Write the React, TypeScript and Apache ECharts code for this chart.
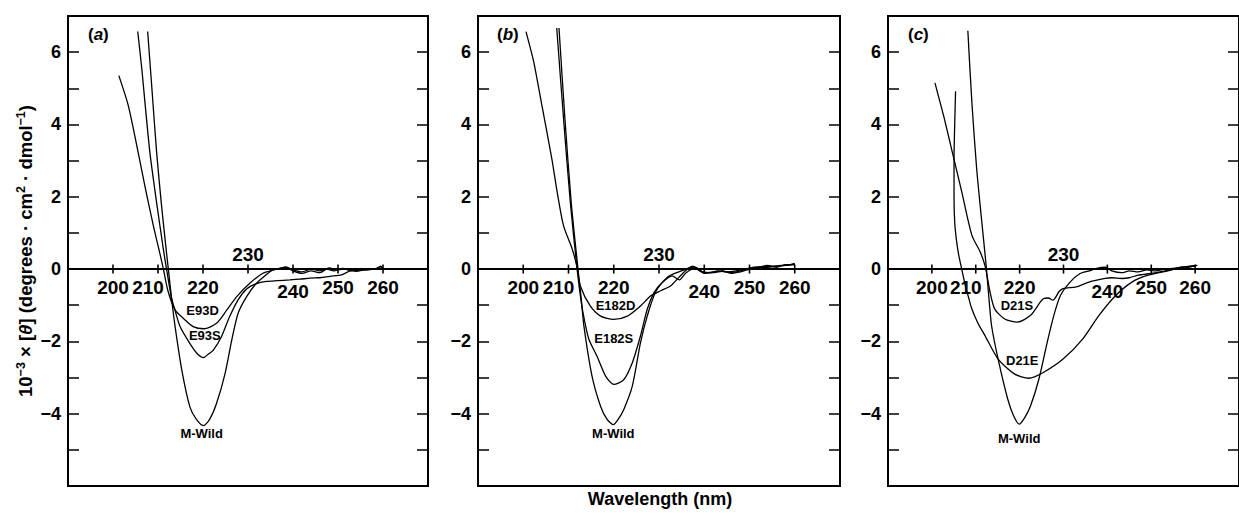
import React, { useEffect, useRef } from "react";
import * as echarts from "echarts";

const FONT = "'Liberation Sans', Arial, Helvetica, sans-serif";

// Wavelength tick labels drawn on the zero line
const xTicks = [200, 210, 220, 230, 240, 250, 260];
const panelLetters = ["a", "b", "c"];

// ---- Panel (a) ----
const aE93D: number[][] = [
  [201.3, 5.35], [203.4, 4.52], [205.6, 3.22], [207.1, 2.29], [209.0, 1.18], [210.4, 0.44], [211.2, 0], [212.2, -0.6],
  [213.8, -1.13], [215.6, -1.36], [217.8, -1.59], [220.2, -1.65], [223.0, -1.5], [225.3, -1.13], [227.5, -0.76],
  [230.4, -0.39], [233.4, -0.11], [235.6, -0.03], [237, 0.02], [238.5, 0.05], [240, -0.05], [242, -0.12], [244, -0.05],
  [246, -0.1], [247.5, 0], [249, -0.05], [251, 0.02], [253, -0.05], [255, -0.03], [257, 0], [258.5, 0], [259.5, 0.08], [260, 0],
];
const aE93S: number[][] = [
  [205.5, 6.57], [206.4, 5.54], [207.1, 4.61], [208.2, 3.22], [209.7, 1.83], [211.2, 0.54], [211.9, 0], [213, -0.8],
  [213.8, -1.15], [214.9, -1.59], [217.1, -2.06], [218.8, -2.35], [220.1, -2.45], [221.2, -2.35], [222.3, -2.24],
  [224.1, -1.87], [225.9, -1.32], [227.8, -0.85], [229.7, -0.55], [231.9, -0.4], [234.1, -0.34], [236.5, -0.32],
  [239.3, -0.3], [241.5, -0.28], [243.8, -0.25], [246, -0.24], [248.2, -0.2], [250.8, -0.16], [252.7, -0.05],
  [254.5, 0], [256.5, -0.02], [258.5, 0], [260, 0],
];
const aWild: number[][] = [
  [207.7, 6.57], [208.6, 5.07], [209.7, 3.22], [210.8, 1.74], [211.9, 0.44], [212.3, 0], [213, -0.8], [213.8, -1.59],
  [215.3, -2.8], [217.1, -3.82], [218.5, -4.15], [220.1, -4.33], [221.5, -4.15], [223.0, -3.72], [224.9, -2.89],
  [226.4, -1.96], [227.8, -1.22], [229.7, -0.76], [231.9, -0.39], [234.1, -0.15], [235.5, -0.02], [237, 0.02],
  [238.5, 0.05], [240, -0.02], [242, -0.08], [244, 0], [246, -0.05], [248, 0.03], [250, -0.02], [252, 0],
  [254, -0.06], [256, -0.02], [258, 0], [259.5, 0.06], [260, 0],
];

// ---- Panel (b) ----
const bE182D: number[][] = [
  [200.6, 6.57], [202.3, 5.74], [204.1, 4.54], [206.3, 3.06], [207.5, 2.13], [208.9, 1.2], [210.8, 0.56], [211.9, 0.05],
  [212.6, -0.46], [214.8, -1.02], [217.1, -1.3], [220.0, -1.39], [223.0, -1.3], [225.9, -1.02], [228.2, -0.74],
  [230.4, -0.6], [232.6, -0.46], [234.4, -0.23], [236.3, 0], [238, 0.05], [240, -0.1], [242, -0.08], [244, -0.05],
  [246, -0.12], [248, -0.08], [250, 0], [252, 0.05], [254, 0.05], [256, 0.08], [258, 0.1], [260, 0.15],
];
const bE182S: number[][] = [
  [207.4, 6.67], [208.9, 4.17], [210.4, 1.85], [211.9, 0], [212.8, -0.9], [213.5, -1.4], [214.5, -1.94], [216.3, -2.41],
  [218.2, -2.96], [220.0, -3.19], [222.2, -3.06], [224.1, -2.59], [225.9, -1.85], [227.4, -1.11], [228.9, -0.65],
  [230.5, -0.4], [232.9, -0.19], [234.5, -0.3], [236, -0.1], [238, 0.02], [240, -0.12], [242, -0.1], [244, -0.06],
  [246, -0.1], [248, -0.05], [250, 0.02], [252, 0.05], [254, 0.1], [256, 0.05], [258, 0.12], [260, 0.12],
];
const bWild: number[][] = [
  [207.9, 6.67], [209.2, 4.17], [210.6, 1.85], [212.1, 0], [212.8, -0.8], [213.4, -1.57], [215.2, -2.96], [217.1, -3.8],
  [218.5, -4.15], [219.9, -4.3], [221, -4.15], [222.2, -3.89], [224.1, -3.24], [225.9, -2.04], [227.4, -1.3],
  [229.2, -0.65], [231.8, -0.23], [234.1, -0.09], [236, 0], [237.5, 0.08], [239, -0.05], [241, -0.1], [243, -0.05],
  [245, -0.08], [247, -0.05], [249, 0], [251, 0.05], [253, 0.06], [255, 0.08], [257, 0.1], [259, 0.12], [260, 0.15],
];

// ---- Panel (c) ----
const cD21S: number[][] = [
  [200.7, 5.15], [202.8, 4.18], [204.6, 3.26], [206.8, 2.14], [209.1, 0.94], [211.0, 0.48], [212.1, 0.1], [212.6, -0.2],
  [213.2, -0.6], [214.3, -1.1], [216.6, -1.38], [219.5, -1.47], [222.5, -1.28], [224.5, -0.95], [225.4, -0.82],
  [226.5, -0.8], [227.6, -0.86], [229.0, -0.62], [229.9, -0.54], [232.9, -0.49], [235.8, -0.36], [239.5, -0.26],
  [241, -0.24], [243.3, -0.26], [245, -0.24], [247, -0.17], [250, -0.12], [252, -0.08], [255, 0], [257, 0.05],
  [258.5, 0.05], [260, 0.1],
];
const cD21E: number[][] = [
  [205.4, 4.92], [205.2, 4.0], [205.05, 3.0], [205.05, 2.0], [205.2, 1.3], [205.6, 0.8], [206.1, 0.4], [206.8, 0.0],
  [207.6, -0.45], [208.4, -0.8], [209.1, -1.1], [210.5, -1.5], [212.1, -1.84], [215.1, -2.49], [218.8, -2.9], [222.1, -3.02],
  [225.4, -2.86], [229.9, -2.49], [234.4, -1.93], [238.1, -1.28], [241.9, -0.73], [245.6, -0.36], [249.3, -0.17],
  [254.5, -0.03], [257, 0.05], [260.5, 0.1],
];
const cWild: number[][] = [
  [208.2, 6.59], [209.1, 4.64], [210.2, 2.79], [211.3, 1.4], [212.4, 0.06], [213.0, -0.8], [213.6, -1.56], [215.1, -2.49],
  [217.3, -3.6], [218.6, -4.05], [219.9, -4.29], [221.2, -4.1], [222.5, -3.78], [224.4, -3.04], [226.3, -2.02],
  [227.8, -1.28], [229.3, -0.73], [231.5, -0.36], [233.7, -0.13], [235.9, -0.05], [237.5, 0.02], [239.6, 0.05],
  [241, -0.05], [243.3, -0.1], [245, -0.05], [247, -0.08], [249, -0.02], [251, -0.05], [253, 0], [255, 0.02],
  [257, 0.05], [260, 0.08],
];

// Curve annotations: [text, wavelength, value]
const aLabels: [string, number, number][] = [["E93D", 219.9, -1.15], ["E93S", 220.4, -1.85], ["M-Wild", 219.7, -4.56]];
const bLabels: [string, number, number][] = [["E182D", 220.4, -1.02], ["E182S", 220.0, -1.92], ["M-Wild", 219.9, -4.54]];
const cLabels: [string, number, number][] = [["D21S", 219.4, -1.0], ["D21E", 220.6, -2.53], ["M-Wild", 219.9, -4.68]];

const panelCurves = [[aE93D, aE93S, aWild], [bE182D, bE182S, bWild], [cD21S, cD21E, cWild]];
const panelLabels = [aLabels, bLabels, cLabels];

export default function App() {
  const ref = useRef<HTMLDivElement>(null);
  useEffect(() => {
    if (!ref.current) return;
    const chart = echarts.init(ref.current, undefined, { renderer: "svg" });

    const gridsPos = [
      { left: 68, width: 360 },
      { left: 478, width: 362 },
      { left: 888, width: 358 },
    ];
    const grids = gridsPos.map((g) => ({
      left: g.left, width: g.width, top: 16, height: 470,
      show: true, borderColor: "#000", borderWidth: 2, backgroundColor: "transparent",
    }));

    const tickLabelOffset: Record<number, any> = {
      210: { offset: [-10, 0] },
      230: { position: "top", distance: 2 },
      240: { offset: [0, 4] },
    };

    const xAxes = gridsPos.map((_, i) => ({
      type: "value", gridIndex: i, min: 190, max: 270,
      axisLine: { show: true, onZero: true, lineStyle: { color: "#000", width: 2 } },
      axisTick: { show: false }, axisLabel: { show: false }, splitLine: { show: false },
    }));

    const yLabelFmt = (v: number) => {
      if (v % 2 !== 0 || v <= -6 || v >= 7) return "";
      return v < 0 ? "\u2212" + Math.abs(v) : String(v);
    };

    const yAxes: any[] = [];
    gridsPos.forEach((_, i) => {
      yAxes.push({
        type: "value", gridIndex: i, min: -6, max: 7, interval: 1, position: "left",
        axisLine: { show: false, onZero: false },
        axisTick: { show: true, inside: true, length: 11, lineStyle: { color: "#000", width: 1.5 } },
        axisLabel: { formatter: yLabelFmt, color: "#000", fontSize: 18, fontWeight: "bold", fontFamily: FONT, margin: 7 },
        splitLine: { show: false },
        ...(i === 0
          ? {
              name: "{n|10}{s|\u22123}{n| \u00d7 [}{i|\u03b8}{n|] (degrees \u00b7 cm}{s|2}{n| \u00b7 dmol}{s|\u22121}{n|)}",
              nameLocation: "middle", nameGap: 32, nameRotate: 90,
              nameTextStyle: {
                color: "#000",
                rich: {
                  n: { fontSize: 18.5, fontWeight: "bold", fontFamily: FONT, color: "#000", lineHeight: 22 },
                  s: { fontSize: 12.5, fontWeight: "bold", fontFamily: FONT, color: "#000", lineHeight: 12, verticalAlign: "top" },
                  i: { fontSize: 18.5, fontWeight: "bold", fontStyle: "italic", fontFamily: FONT, color: "#000", lineHeight: 22 },
                },
              },
            }
          : {}),
      });
      yAxes.push({
        type: "value", gridIndex: i, min: -6, max: 7, interval: 1, position: "right",
        axisLine: { show: false, onZero: false },
        axisTick: { show: true, inside: true, length: 11, lineStyle: { color: "#000", width: 1.5 } },
        axisLabel: { show: false }, splitLine: { show: false },
      });
    });

    const series: any[] = [];
    panelCurves.forEach((curves, i) => {
      curves.forEach((data) => {
        series.push({
          type: "line", xAxisIndex: i, yAxisIndex: 2 * i, data, showSymbol: false, symbol: "none",
          smooth: 0.25, lineStyle: { color: "#000", width: 1.3 }, silent: true, z: 3,
        });
      });
      series.push({
        type: "scatter", xAxisIndex: i, yAxisIndex: 2 * i, symbol: "rect", symbolSize: [1.6, 9],
        itemStyle: { color: "#000", opacity: 1 }, silent: true, z: 4,
        data: xTicks.map((v) => ({ value: [v, 0], label: tickLabelOffset[v] || {} })),
        label: {
          show: true, position: "bottom", distance: 5, formatter: (p: any) => String(p.value[0]),
          color: "#000", opacity: 1, fontSize: 19, lineHeight: 17, fontWeight: "bold", fontFamily: FONT, textBorderWidth: 0,
        },
      });
      series.push({
        type: "scatter", xAxisIndex: i, yAxisIndex: 2 * i, symbolSize: 0, silent: true, z: 5,
        itemStyle: { color: "#000", opacity: 1 },
        data: panelLabels[i].map(([name, x, y]) => ({ name, value: [x, y] })),
        label: {
          show: true, position: "inside", formatter: (p: any) => p.name,
          color: "#000", opacity: 1, fontSize: 13, lineHeight: 12, fontWeight: "bold", fontFamily: FONT,
          textBorderWidth: 0, textBorderColor: "transparent",
        },
      });
    });

    const letterX = [88, 497, 908];
    const graphic: any[] = panelLetters.map((l, i) => ({
      type: "text", left: letterX[i], top: 26,
      style: {
        text: "{n|(}{i|" + l + "}{n|)}",
        rich: {
          n: { fontSize: 17, fontWeight: "bold", fontFamily: FONT, fill: "#000" },
          i: { fontSize: 17, fontWeight: "bold", fontStyle: "italic", fontFamily: FONT, fill: "#000" },
        },
      },
    }));
    graphic.push({
      type: "text", x: 660, y: 499,
      style: { text: "Wavelength (nm)", fontSize: 18, fontWeight: "bold", fontFamily: FONT, fill: "#000", align: "center", verticalAlign: "middle" },
    });

    chart.setOption({
      animation: false,
      backgroundColor: "#fff",
      grid: grids,
      xAxis: xAxes,
      yAxis: yAxes,
      series,
      graphic,
    });
    return () => chart.dispose();
  }, []);
  return <div ref={ref} style={{ position: "fixed", left: 0, top: 0, width: 1239, height: 513 }} />;
}
